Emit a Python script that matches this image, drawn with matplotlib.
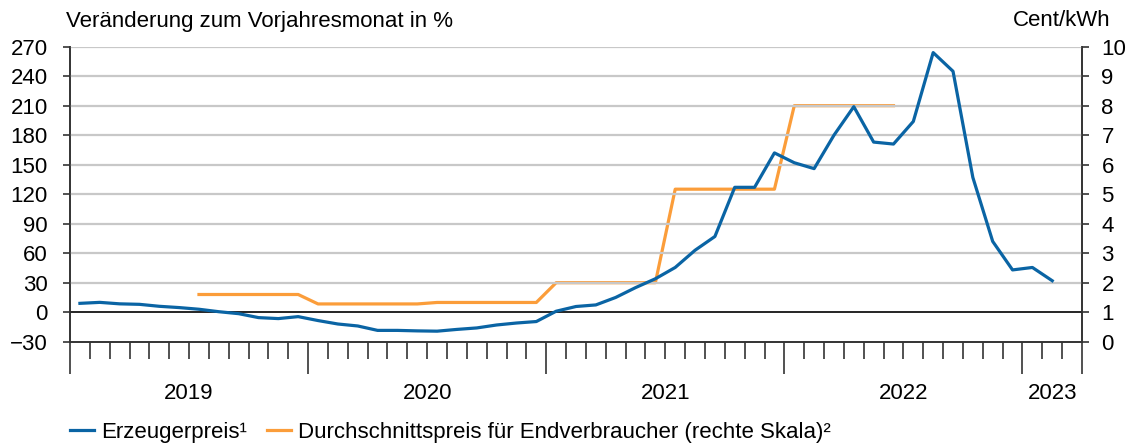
import numpy as np
import matplotlib.pyplot as plt

# Monthly data Jan 2019 .. Mar 2023 (51 months)
n_months = 51
years = ['2019', '2020', '2021', '2022', '2023']

# Erzeugerpreis, change vs. previous-year month in % (Jan 2019 .. Feb 2023)
erzeuger = [9, 10, 8.5, 8, 6, 4.7, 3, 0.5, -1.5, -5.5, -6.5, -4.5,
            -8.5, -12, -14, -18.5, -18.5, -19, -19.3, -17.5, -16, -13, -11, -9.5,
            1, 5.8, 7.4, 15, 25, 34, 45.5, 63, 77, 127, 127, 162,
            152, 146, 180, 209, 173, 171, 194, 264, 245, 137, 72, 43,
            45.5, 32]

# Durchschnittspreis Endverbraucher, Cent/kWh (Jul 2019 .. Jun 2022)
endverbr_start = 6
endverbr = [1.6] * 6 + [1.28] * 6 + [1.33] * 6 + [2.0] * 6 + [5.17] * 6 + [8.0] * 6

blue = '#0a64a4'
orange = '#fb9d3a'
fs = 16

plt.rcParams['font.family'] = ['Liberation Sans', 'DejaVu Sans']
plt.rcParams['font.size'] = fs

fig = plt.figure(figsize=(11.32, 4.44), dpi=100)
ax = fig.add_axes([70 / 1132, 1 - 341.7 / 444, (1082 - 70) / 1132, (341.7 - 46.7) / 444])
ax2 = ax.twinx()

x_blue = np.arange(len(erzeuger)) + 0.5
x_orange = np.arange(endverbr_start, endverbr_start + len(endverbr)) + 0.5

# gridlines
for v in range(30, 271, 30):
    ax.axhline(v, color='#c8c8c8', lw=1.6, zorder=0)
ax.axhline(0, color='black', lw=1.2, zorder=1)

ax.plot(x_blue, erzeuger, color=blue, lw=2.3, zorder=3)
ax2.plot(x_orange, endverbr, color=orange, lw=2.3, zorder=2)
ax.set_zorder(ax2.get_zorder() + 1)
ax.patch.set_visible(False)

ax.set_xlim(0, n_months)
ax.set_ylim(-30, 270)
ax2.set_ylim(0, 10)
ax.set_yticks(range(-30, 271, 30))
ax2.set_yticks(range(0, 11))

for a in (ax, ax2):
    a.spines['top'].set_visible(False)
    for side in ('left', 'right', 'bottom'):
        a.spines[side].set_color('#333333')
        a.spines[side].set_linewidth(1.2)

ax.tick_params(axis='y', length=5, width=1.2, color='#333333', pad=11, labelsize=fs)
ax2.tick_params(axis='y', length=5, width=1.2, color='#333333', pad=9, labelsize=fs)

# x ticks: month boundaries, year boundaries long
major = [0, 12, 24, 36, 48, n_months]
minor = [m for m in range(n_months + 1) if m not in major]
ax.set_xticks(major)
ax.set_xticks(minor, minor=True)
ax.set_xticklabels([])
ax.tick_params(axis='x', which='major', length=23, width=1.2, color='#333333')
ax.tick_params(axis='x', which='minor', length=12, width=1.2, color='#333333')

# year labels centred in each year
for k, yr in enumerate(years):
    start = 12 * k
    end = min(start + 12, n_months)
    ax.text((start + end) / 2, -0.175, yr, transform=ax.get_xaxis_transform(),
            ha='center', va='center', fontsize=fs)

fig.text(66 / 1132, 1 - 21 / 444, 'Veränderung zum Vorjahresmonat in %',
         ha='left', va='center', fontsize=fs)
fig.text(1110 / 1132, 1 - 21 / 444, 'Cent/kWh', ha='right', va='center', fontsize=fs)

# legend
h1, = ax.plot([], [], color=blue, lw=2.3)
h2, = ax.plot([], [], color=orange, lw=2.3)
fig.legend([h1, h2], ['Erzeugerpreis¹', 'Durchschnittspreis für Endverbraucher (rechte Skala)²'],
           loc='center left', bbox_to_anchor=(70 / 1132, 1 - 432 / 444), ncol=2,
           frameon=False, fontsize=fs, handlelength=1.1, handletextpad=0.3,
           columnspacing=0.9, borderaxespad=0, borderpad=0)

fig.savefig('out.png', dpi=100)
